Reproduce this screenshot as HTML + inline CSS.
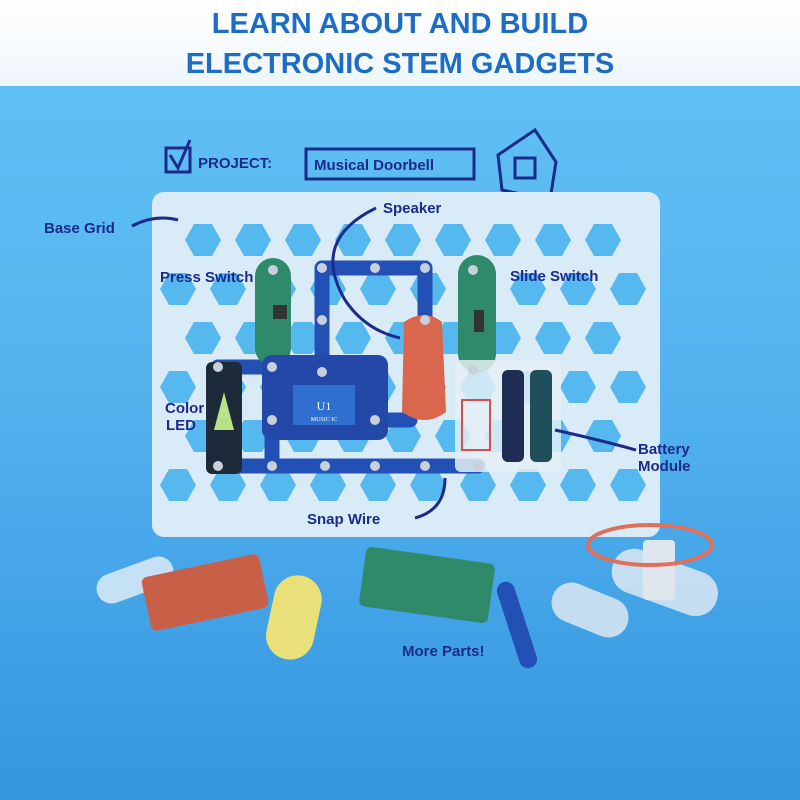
<!DOCTYPE html>
<html><head><meta charset="utf-8"><style>
html,body{margin:0;padding:0;width:800px;height:800px;overflow:hidden}
svg{display:block}
.t{font-family:"Liberation Sans",sans-serif;font-weight:bold;fill:#1e6dc4;font-size:29px;text-anchor:middle}
.h{font-family:"Liberation Sans",sans-serif;fill:#1c2a8a;font-size:15px;font-weight:bold}
</style></head><body>
<svg width="800" height="800" viewBox="0 0 800 800" xmlns="http://www.w3.org/2000/svg">
<defs>
<linearGradient id="bg" x1="0" y1="0" x2="0" y2="1">
<stop offset="0" stop-color="#64c4f6"/><stop offset="0.5" stop-color="#52b2ee"/><stop offset="1" stop-color="#3595e0"/>
</linearGradient>
<linearGradient id="hd" x1="0" y1="0" x2="0" y2="1">
<stop offset="0" stop-color="#ffffff"/><stop offset="1" stop-color="#eef6fc"/>
</linearGradient>
<polygon id="hx" points="-18,0 -9,-16 9,-16 18,0 9,16 -9,16" fill="#55b9f0"/>
</defs>
<rect width="800" height="800" fill="url(#bg)"/>
<rect width="800" height="86" fill="url(#hd)"/>
<text class="t" x="400" y="33">LEARN ABOUT AND BUILD</text>
<text class="t" x="400" y="73">ELECTRONIC STEM GADGETS</text>

<!-- project header -->
<rect x="166" y="148" width="24" height="24" fill="none" stroke="#1c2a8a" stroke-width="3"/>
<path d="M170 155 L178 168 L190 140" fill="none" stroke="#1c2a8a" stroke-width="3"/>
<text class="h" x="198" y="168" font-size="17">PROJECT:</text>
<rect x="306" y="149" width="168" height="30" fill="none" stroke="#1c2a8a" stroke-width="3"/>
<text class="h" x="314" y="170">Musical Doorbell</text>
<path d="M498 155 L535 130 L556 162 L550 200 L502 190 Z" fill="none" stroke="#1c2a8a" stroke-width="3"/>
<rect x="515" y="158" width="20" height="20" fill="none" stroke="#1c2a8a" stroke-width="3"/>

<!-- base grid panel -->
<rect x="152" y="192" width="508" height="345" rx="12" fill="#d9ebf7"/>
<g id="hexes"></g>

<!-- wires -->
<g stroke="#2350b4" stroke-width="15" stroke-linecap="round" fill="none">
<path d="M322 268 L425 268"/>
<path d="M322 268 L322 372"/>
<path d="M425 268 L425 320"/>
<path d="M218 367 L278 367"/>
<path d="M218 466 L478 466"/>
<path d="M272 420 L272 466"/>
<path d="M375 420 L410 420"/>
</g>
<!-- press switch -->
<rect x="255" y="258" width="36" height="108" rx="18" fill="#2e8a6a"/>
<rect x="273" y="305" width="14" height="14" fill="#333"/>
<!-- slide switch -->
<rect x="458" y="255" width="38" height="118" rx="19" fill="#2e8a6a"/>
<rect x="474" y="310" width="10" height="22" fill="#333"/>
<!-- LED -->
<rect x="206" y="362" width="36" height="112" rx="6" fill="#1d2a3a"/>
<polygon points="224,392 214,430 234,430" fill="#b7e28a"/>
<!-- music IC -->
<rect x="262" y="355" width="126" height="85" rx="10" fill="#2448a8"/>
<rect x="293" y="385" width="62" height="40" fill="#2f6fd0"/>
<text x="324" y="410" font-family="Liberation Serif" font-size="12" fill="#fff" text-anchor="middle">U1</text>
<text x="324" y="421" font-family="Liberation Serif" font-size="6" fill="#fff" text-anchor="middle">MUSIC IC</text>
<!-- speaker -->
<path d="M404 322 Q425 308 442 322 L446 412 Q425 428 402 412 Z" fill="#d8674e"/>
<!-- battery -->
<rect x="455" y="360" width="106" height="112" rx="6" fill="#e4eef6" opacity="0.85"/>
<rect x="502" y="370" width="22" height="92" rx="6" fill="#1f2d55"/>
<rect x="530" y="370" width="22" height="92" rx="6" fill="#1f4f5a"/>
<rect x="462" y="400" width="28" height="50" fill="none" stroke="#d05050" stroke-width="2"/>
<!-- snaps -->
<g fill="#c8d0dc">
<circle cx="322" cy="268" r="5"/><circle cx="425" cy="268" r="5"/><circle cx="375" cy="268" r="5"/>
<circle cx="322" cy="320" r="5"/><circle cx="322" cy="372" r="5"/><circle cx="425" cy="320" r="5"/>
<circle cx="218" cy="367" r="5"/><circle cx="272" cy="367" r="5"/><circle cx="218" cy="466" r="5"/>
<circle cx="272" cy="466" r="5"/><circle cx="325" cy="466" r="5"/><circle cx="375" cy="466" r="5"/>
<circle cx="425" cy="466" r="5"/><circle cx="478" cy="466" r="5"/><circle cx="272" cy="420" r="5"/>
<circle cx="375" cy="420" r="5"/><circle cx="473" cy="270" r="5"/><circle cx="473" cy="370" r="5"/>
<circle cx="273" cy="270" r="5"/>
</g>

<!-- labels -->
<text class="h" x="44" y="233">Base Grid</text>
<path d="M132 226 Q155 214 178 220" fill="none" stroke="#1c2a8a" stroke-width="3"/>
<text class="h" x="383" y="213">Speaker</text>
<path d="M376 208 Q310 240 345 300 Q365 330 400 338" fill="none" stroke="#1c2a8a" stroke-width="3"/>
<text class="h" x="160" y="282">Press Switch</text>
<text class="h" x="510" y="281">Slide Switch</text>
<text class="h" x="165" y="413">Color</text>
<text class="h" x="166" y="430">LED</text>
<text class="h" x="638" y="454">Battery</text>
<text class="h" x="638" y="471">Module</text>
<path d="M636 450 Q600 440 555 430" fill="none" stroke="#1c2a8a" stroke-width="3"/>
<text class="h" x="307" y="524">Snap Wire</text>
<path d="M415 518 Q445 510 445 478" fill="none" stroke="#1c2a8a" stroke-width="3"/>
<text class="h" x="402" y="656">More Parts!</text>

<!-- more parts -->
<rect x="95" y="565" width="80" height="30" rx="15" fill="#e6f0f8" opacity="0.8" transform="rotate(-20 135 580)"/>
<rect x="145" y="565" width="120" height="55" rx="6" fill="#c86048" transform="rotate(-12 205 592)"/>
<rect x="270" y="575" width="48" height="85" rx="24" fill="#e9e07a" transform="rotate(12 294 617)"/>
<rect x="362" y="555" width="130" height="60" rx="6" fill="#2f8a6a" transform="rotate(8 427 585)"/>
<rect x="508" y="580" width="18" height="90" rx="9" fill="#2350b4" transform="rotate(-18 517 625)"/>
<rect x="550" y="590" width="80" height="40" rx="20" fill="#dce8f2" opacity="0.85" transform="rotate(22 590 610)"/>
<rect x="610" y="560" width="110" height="45" rx="22" fill="#dce8f2" opacity="0.85" transform="rotate(20 665 582)"/>
<rect x="643" y="540" width="32" height="60" rx="4" fill="#dfe6ee"/>
<ellipse cx="650" cy="545" rx="62" ry="20" fill="none" stroke="#e0705a" stroke-width="4"/>
</svg>
<script>
var g=document.getElementById('hexes'),s='';
var ys=[240,289,338,387,436,485];
for(var r=0;r<6;r++){var off=(r%2==0)?203:178;var n=(r%2==0)?9:10;
for(var c=0;c<n;c++){s+='<use href="#hx" x="'+(off+c*50)+'" y="'+ys[r]+'"/>';}}
g.innerHTML=s;
</script>
</body></html>
